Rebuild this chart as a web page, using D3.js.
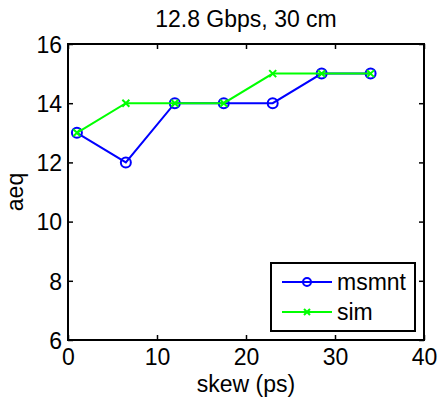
<!DOCTYPE html>
<html>
<head>
<meta charset="utf-8">
<script src="https://cdn.jsdelivr.net/npm/d3@7"></script>
<style>
  html, body { margin: 0; padding: 0; background: #fff; }
  svg { display: block; font-family: "Liberation Sans", Arial, sans-serif; }
</style>
</head>
<body>
<svg id="chart" width="438" height="402"></svg>
<script>
// Equalizer setting vs. skew
const skew = [1, 6.5, 12, 17.5, 23, 28.5, 34];
const msmnt = [13, 12, 14, 14, 14, 15, 15];
const sim = [13, 14, 14, 14, 15, 15, 15];
const xTicks = [0, 10, 20, 30, 40];
const yTicks = [6, 8, 10, 12, 14, 16];
const seriesNames = ["msmnt", "sim"];

const W = 438, H = 402;
const m = { left: 68, right: 14, top: 44, bottom: 62 };
const iw = W - m.left - m.right, ih = H - m.top - m.bottom;
const FS = "23px";

const svg = d3.select("#chart");
const x = d3.scaleLinear().domain([0, 40]).range([m.left, m.left + iw]);
const y = d3.scaleLinear().domain([6, 16]).range([m.top + ih, m.top]);

// axes with inward ticks on all four sides
const tick = 5;
const gx = svg.append("g").attr("transform", `translate(0,${m.top + ih})`)
  .call(d3.axisBottom(x).tickValues(xTicks).tickSize(-tick).tickPadding(0));
const gxt = svg.append("g").attr("transform", `translate(0,${m.top})`)
  .call(d3.axisTop(x).tickValues(xTicks).tickSize(-tick).tickFormat(""));
const gy = svg.append("g").attr("transform", `translate(${m.left},0)`)
  .call(d3.axisLeft(y).tickValues(yTicks).tickSize(-tick).tickPadding(0));
const gyr = svg.append("g").attr("transform", `translate(${m.left + iw},0)`)
  .call(d3.axisRight(y).tickValues(yTicks).tickSize(-tick).tickFormat(""));
[gx, gxt, gy, gyr].forEach(g => {
  g.select(".domain").remove();
  g.selectAll("line").attr("stroke", "#000").attr("stroke-width", 1.5);
  g.selectAll("text").attr("fill", "#000").style("font-size", FS)
    .style("font-family", "'Liberation Sans', Arial, sans-serif");
});
gy.selectAll("text").attr("x", -6).attr("dy", "0.36em");
gx.selectAll("text").attr("y", 25).attr("dy", 0);

svg.append("rect").attr("x", m.left).attr("y", m.top).attr("width", iw).attr("height", ih)
  .attr("fill", "none").attr("stroke", "#000").attr("stroke-width", 2);

const line = d3.line().x(d => x(d[0])).y(d => y(d[1]));
const mData = skew.map((s, i) => [s, msmnt[i]]);
const sData = skew.map((s, i) => [s, sim[i]]);

// measurement series: blue line with open circles
svg.append("path").datum(mData).attr("d", line)
  .attr("fill", "none").attr("stroke", "#0000ff").attr("stroke-width", 2);
svg.selectAll(".mk").data(mData).join("circle")
  .attr("cx", d => x(d[0])).attr("cy", d => y(d[1])).attr("r", 5)
  .attr("fill", "none").attr("stroke", "#0000ff").attr("stroke-width", 2);

// simulation series: green line with x markers
svg.append("path").datum(sData).attr("d", line)
  .attr("fill", "none").attr("stroke", "#00ff00").attr("stroke-width", 2);
const xs = 3.5;
svg.selectAll(".sk").data(sData).join("path")
  .attr("d", d => {
    const cx = x(d[0]), cy = y(d[1]);
    return `M${cx - xs},${cy - xs}L${cx + xs},${cy + xs}M${cx - xs},${cy + xs}L${cx + xs},${cy - xs}`;
  })
  .attr("stroke", "#00ff00").attr("stroke-width", 2);

// title and axis labels
svg.append("text").attr("x", x(20)).attr("y", 27).attr("text-anchor", "middle")
  .style("font-size", FS).text("12.8 Gbps, 30 cm");
svg.append("text").attr("x", x(20)).attr("y", 392).attr("text-anchor", "middle")
  .style("font-size", FS).text("skew (ps)");
svg.append("text").attr("transform", `translate(23,${y(11)}) rotate(-90)`)
  .attr("text-anchor", "middle").style("font-size", FS).text("aeq");

// legend
const lg = svg.append("g");
lg.append("rect").attr("x", 271).attr("y", 263).attr("width", 144).attr("height", 68)
  .attr("fill", "#fff").attr("stroke", "#000").attr("stroke-width", 2);
const colors = ["#0000ff", "#00ff00"];
seriesNames.forEach((name, i) => {
  const ly = 282 + i * 30;
  lg.append("line").attr("x1", 282).attr("x2", 332).attr("y1", ly).attr("y2", ly)
    .attr("stroke", colors[i]).attr("stroke-width", 2);
  if (i === 0) {
    lg.append("circle").attr("cx", 307).attr("cy", ly).attr("r", 4)
      .attr("fill", "none").attr("stroke", colors[i]).attr("stroke-width", 2);
  } else {
    lg.append("path")
      .attr("d", `M${307 - 3},${ly - 3}L${307 + 3},${ly + 3}M${307 - 3},${ly + 3}L${307 + 3},${ly - 3}`)
      .attr("stroke", colors[i]).attr("stroke-width", 2);
  }
  lg.append("text").attr("x", 337).attr("y", ly).attr("dy", "0.36em")
    .style("font-size", FS).text(name);
});
</script>
</body>
</html>
